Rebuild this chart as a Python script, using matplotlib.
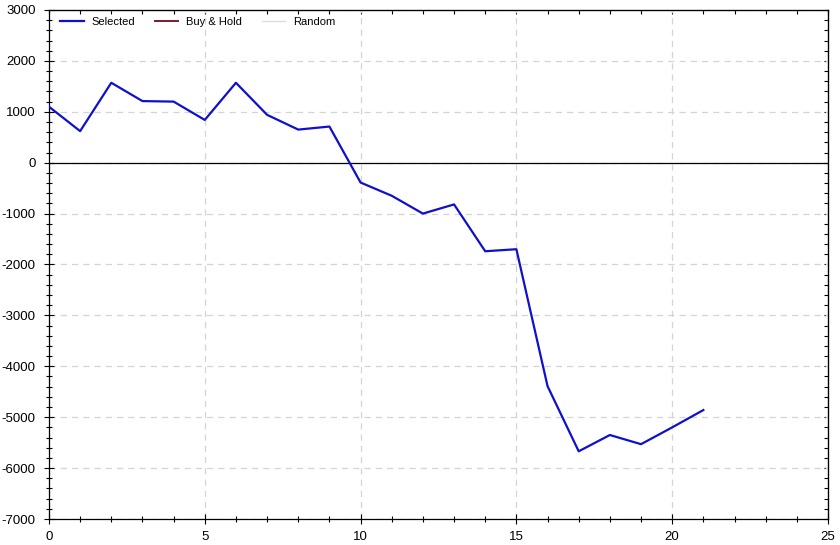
import matplotlib.pyplot as plt
from matplotlib.ticker import MultipleLocator

plt.rcParams['font.family'] = ['Liberation Sans', 'DejaVu Sans']
plt.rcParams['axes.unicode_minus'] = False

steps = list(range(22))
selected = [1100, 620, 1570, 1210, 1200, 840, 1570, 940, 650, 710,
            -390, -650, -1000, -820, -1740, -1700, -4390, -5670, -5350,
            -5530, -5200, -4860]

fig = plt.figure(figsize=(8.4, 5.45), dpi=100)
ax = fig.add_axes([0.0583, 0.0477, 0.9274, 0.934])

ax.plot(steps, selected, color="#1010cc", lw=1.6, label="Selected", zorder=3)
# empty series, legend only
ax.plot([], [], color="#7a1a2a", lw=1.4, label="Buy & Hold")
ax.plot([], [], color="#dcdcdc", lw=1.0, label="Random")

ax.axhline(0, color="black", lw=0.9, zorder=2)

ax.set_xlim(0, 25)
ax.set_ylim(-7000, 3000)
ax.xaxis.set_major_locator(MultipleLocator(5))
ax.xaxis.set_minor_locator(MultipleLocator(1))
ax.yaxis.set_major_locator(MultipleLocator(1000))
ax.yaxis.set_minor_locator(MultipleLocator(200))

ax.grid(True, which="major", color="#d4d4d4", ls=(0, (5, 4)), lw=0.9)
ax.set_axisbelow(True)

ax.tick_params(which="both", direction="inout", colors="black", labelsize=9.5,
               top=False, right=False)
ax.tick_params(which="major", length=7, width=0.8)
ax.tick_params(which="minor", length=5, width=0.8)
ax.tick_params(axis="y", pad=6)
ax.tick_params(axis="x", pad=5)

# inward ticks on top and right
sx = ax.secondary_xaxis("top")
sx.xaxis.set_major_locator(MultipleLocator(5))
sx.xaxis.set_minor_locator(MultipleLocator(1))
sx.tick_params(which="both", direction="in", length=3, labeltop=False, width=0.8)
sy = ax.secondary_yaxis("right")
sy.yaxis.set_major_locator(MultipleLocator(1000))
sy.yaxis.set_minor_locator(MultipleLocator(200))
sy.tick_params(which="both", direction="in", length=3, labelright=False, width=0.8)

for sp in ax.spines.values():
    sp.set_linewidth(0.9)

ax.legend(loc="upper left", ncol=3, frameon=False, fontsize=8,
          handlelength=2.1, handletextpad=0.7, columnspacing=1.8,
          borderaxespad=0.2, bbox_to_anchor=(0.006, 1.0))

fig.savefig("out.png", dpi=100)
